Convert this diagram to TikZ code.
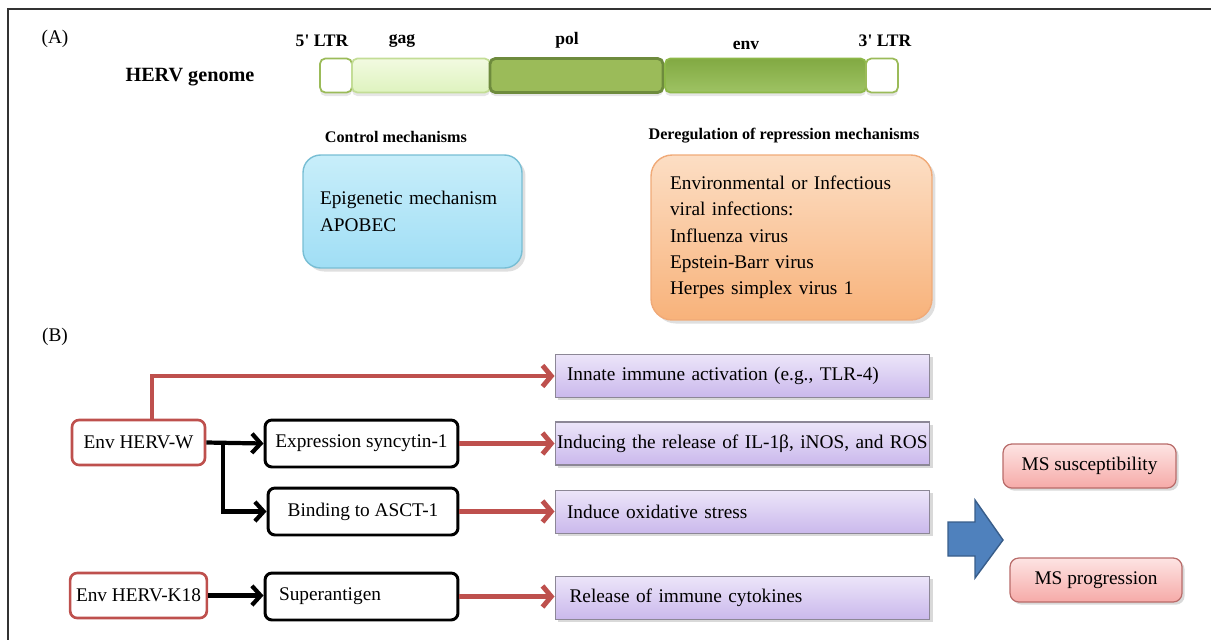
\documentclass[tikz,border=0pt]{standalone}
\usepackage{fontspec}
\setmainfont{Liberation Serif}
\usetikzlibrary{arrows.meta}
\usetikzlibrary{shadows}

\definecolor{hervred}{RGB}{190,80,77}
\definecolor{ltrgreen}{RGB}{155,187,89}
\definecolor{polgreen}{RGB}{155,187,89}
\definecolor{poledge}{RGB}{110,139,61}
\definecolor{envgreen}{RGB}{141,184,72}
\definecolor{gagtop}{RGB}{242,250,225}
\definecolor{gagbot}{RGB}{222,243,190}
\definecolor{bluetop}{RGB}{200,238,250}
\definecolor{bluebot}{RGB}{160,222,245}
\definecolor{blueedge}{RGB}{120,190,212}
\definecolor{orangetop}{RGB}{252,222,196}
\definecolor{orangebot}{RGB}{248,178,122}
\definecolor{orangeedge}{RGB}{240,170,120}
\definecolor{purpletop}{RGB}{236,229,249}
\definecolor{purplebot}{RGB}{202,184,236}
\definecolor{purpleedge}{RGB}{140,135,150}
\definecolor{pinktop}{RGB}{253,228,227}
\definecolor{pinkbot}{RGB}{246,170,168}
\definecolor{pinkedge}{RGB}{185,108,106}
\definecolor{arrowblue}{RGB}{79,129,189}
\definecolor{arrowedge}{RGB}{56,93,138}

\tikzset{
  txt/.style={font=\fontsize{11}{13.4}\selectfont},
  listtxt/.style={font=\fontsize{11}{15}\selectfont},
  hdr/.style={font=\bfseries\fontsize{9.2}{11}\selectfont},
  seglabel/.style={font=\bfseries\fontsize{10}{12}\selectfont},
  seg/.style={draw, rounded corners=3pt, minimum height=0.68cm, inner sep=0pt, line width=1pt},
  ctrl/.style={listtxt, draw=blueedge, line width=0.8pt, rounded corners=10pt, top color=bluetop, bottom color=bluebot,
    drop shadow={opacity=0.25, shadow xshift=2pt, shadow yshift=-2pt}},
  dereg/.style={listtxt, draw=orangeedge, line width=0.8pt, rounded corners=12pt, top color=orangetop, bottom color=orangebot,
    drop shadow={opacity=0.25, shadow xshift=2pt, shadow yshift=-2pt}},
  hervbox/.style={txt, draw=hervred, line width=1.5pt, rounded corners=4pt, fill=white, minimum width=2.66cm, minimum height=0.9cm},
  blkbox/.style={txt, draw=black, line width=1.7pt, rounded corners=4pt, fill=white, minimum width=3.86cm, minimum height=0.94cm},
  purp/.style={txt, draw=purpleedge, line width=0.6pt, top color=purpletop, bottom color=purplebot,
    minimum width=7.5cm, minimum height=0.86cm, text width=7.02cm, inner xsep=0.24cm, align=left,
    drop shadow={opacity=0.3, shadow xshift=1.5pt, shadow yshift=-1.5pt}},
  pinkbox/.style={txt, draw=pinkedge, line width=0.7pt, rounded corners=5pt, top color=pinktop, bottom color=pinkbot,
    minimum width=3.46cm, minimum height=0.88cm, drop shadow={opacity=0.3, shadow xshift=1.5pt, shadow yshift=-1.5pt}},
  redarr/.style={draw=hervred, line width=2.8pt, -{Straight Barb[length=5pt,width=12pt]}},
  blkarr/.style={draw=black, line width=2.4pt, -{Straight Barb[length=5pt,width=11pt]}}
}

\begin{document}
\begin{tikzpicture}[x=0.02cm,y=-0.02cm]
    \path[use as bounding box] (0,0) rectangle (1211,640);
    % Border.
    \draw[line width=0.8pt, black!80] (1211,9) -- (8,9) -- (8,640);
    % Genome.
    \node[txt] (labA) at (55,39) {(A)};
    \node[font=\bfseries\fontsize{11.5}{13}\selectfont] (herv) at (190,77) {HERV genome};
    \node[seg, draw=ltrgreen, fill=white, minimum width=0.64cm, drop shadow={opacity=0.2, shadow xshift=0pt, shadow yshift=-2pt}] (ltr5) at (336,75.5) {};
    \node[seg, draw=gagbot!60!ltrgreen, top color=gagtop, bottom color=gagbot, minimum width=2.76cm,
      drop shadow={opacity=0.2, shadow xshift=0pt, shadow yshift=-2pt}] (gag) at (421,75.5) {};
    \node[seg, draw=poledge, line width=1.6pt, fill=polgreen, minimum width=3.46cm,
      drop shadow={opacity=0.2, shadow xshift=0pt, shadow yshift=-2pt}] (pol) at (576.5,75.5) {};
    \node[seg, draw=envgreen, top color=envgreen!92!black, bottom color=envgreen!85, minimum width=4.02cm,
      drop shadow={opacity=0.2, shadow xshift=0pt, shadow yshift=-2pt}] (env) at (765.5,75.5) {};
    \node[seg, draw=ltrgreen, fill=white, minimum width=0.64cm, drop shadow={opacity=0.2, shadow xshift=0pt, shadow yshift=-2pt}] (ltr3) at (882,75.5) {};
    \node[seglabel] at (322,41) {5\textquotesingle{} LTR};
    \node[seglabel] at (402,41) {gag};
    \node[seglabel] at (567,40) {pol};
    \node[seglabel] at (746,45) {env};
    \node[seglabel] at (885,41) {3\textquotesingle{} LTR};
    % Control and deregulation.
    \node[hdr] (ctrlhdr) at (396,137) {Control mechanisms};
    \node[ctrl, minimum width=4.38cm, minimum height=2.26cm, text width=3.7cm, inner xsep=0.34cm, align=left] (ctrlbox) at (412.5,211.5)
      {Epigenetic mechanism\\APOBEC};
    \node[hdr] (dereghdr) at (784,136) {Deregulation of repression mechanisms};
    \node[dereg, minimum width=5.62cm, minimum height=3.3cm, text width=4.86cm, inner xsep=0.38cm, align=left] (deregbox) at (791.5,237.5)
      {Environmental or Infectious\\viral infections:\\Influenza virus\\Epstein-Barr virus\\Herpes simplex virus 1};
    % Pathways.
    \node[txt] (labB) at (55,337) {(B)};
    \node[hervbox] (hervw) at (138.5,442.5) {Env HERV-W};
    \node[hervbox] (hervk) at (138.5,595.5) {Env HERV-K18};
    \node[blkbox] (expr) at (361.5,443.5) {Expression syncytin-1};
    \node[blkbox, minimum width=3.8cm] (bind) at (363,511.5) {Binding to ASCT-1};
    \node[blkbox, text width=3.3cm, align=left] (supag) at (361.5,596.5) {Superantigen};
    \node[purp] (innate) at (742.5,376) {Innate immune activation (e.g., TLR-4)};
    \node[purp, text width=7.42cm, inner xsep=0.04cm] (induce) at (742.5,443.5) {Inducing the release of IL-1β, iNOS, and ROS};
    \node[purp] (oxid) at (742.5,512) {Induce oxidative stress};
    \node[purp, text width=6.92cm, inner xsep=0.29cm] (cyto) at (742.5,598) {Release of immune cytokines};
    \node[pinkbox] (suscep) at (1089.5,466) {MS susceptibility};
    \node[pinkbox, minimum width=3.44cm] (progr) at (1096,580) {MS progression};
    % Arrows.
    \draw[redarr] ([xshift=0.27cm]hervw.north) |- (innate.west);
    \draw[redarr] (expr.east) -- (induce.west);
    \draw[redarr] (bind.east) -- (oxid.west |- bind.east);
    \draw[redarr] (supag.east) -- (cyto.west |- supag.east);
    \draw[blkarr] (hervw.east) -- (expr.west);
    \draw[blkarr] (hervw.east) ++(0.34cm,0) |- (bind.west);
    \draw[blkarr] (hervk.east) -- (supag.west |- hervk.east);
    % Outcome.
    \filldraw[fill=arrowblue, draw=arrowedge, line width=0.8pt]
      (948,522) -- (975,522) -- (975,500) -- (1003,540) -- (975,578) -- (975,556) -- (948,556) -- cycle;
\end{tikzpicture}
\end{document}
